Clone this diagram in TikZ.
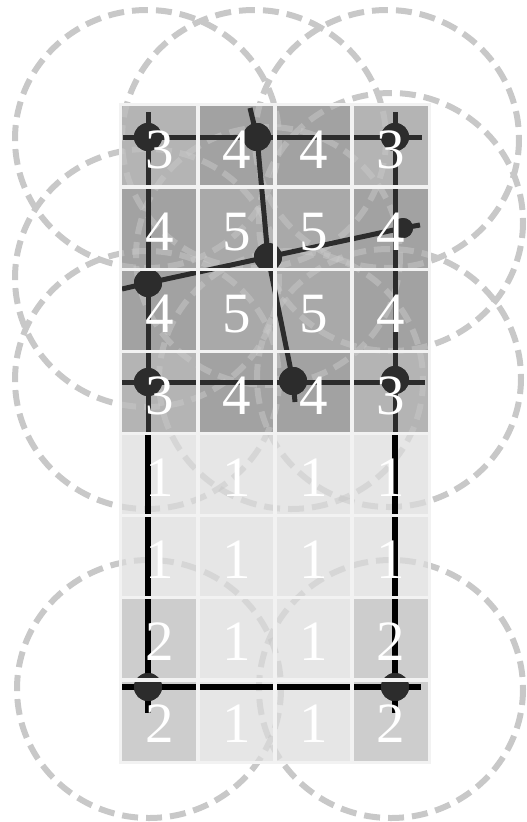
\documentclass[tikz,border=0pt]{standalone}
\usepackage{fontspec}
\setmainfont{Liberation Serif}
\definecolor{ringgray}{HTML}{C8C8C8}
\definecolor{v1}{HTML}{E6E6E6}
\definecolor{v2}{HTML}{CDCDCD}
\definecolor{v3}{HTML}{B4B4B4}
\definecolor{v4}{HTML}{A2A2A2}
\definecolor{v5}{HTML}{A9A9A9}
\definecolor{gapcol}{HTML}{F2F2F2}
\definecolor{wiredark}{HTML}{2C2C2C}
\begin{document}
\begin{tikzpicture}[x=1pt,y=-1pt,
  ring/.style={draw=ringgray, line width=6pt, dash pattern=on 16pt off 8pt},
  ringfaint/.style={ring, draw opacity=0.5},
  cell/.style={rectangle, draw=none, inner sep=0pt, minimum width=77pt, minimum height=82.125pt},
  gap/.style={draw=gapcol, line width=3pt},
  wire/.style={draw=wiredark, line width=5pt},
  wireblack/.style={draw=black, line width=5.5pt},
  dot/.style={circle, fill=wiredark, inner sep=0pt, minimum size=28pt},
  smalldot/.style={dot, minimum size=20pt},
  num/.style={text=white, font=\fontsize{57}{57}\selectfont, inner sep=0pt, anchor=base}]
\useasboundingbox (0,0) rectangle (527,822);
% rings (full, outside grid)
\def\rings{147/139,254/139,387/139,391/222,147/278,268/256,147/380,389/378,291/380,149/689,391/689}
\foreach \cx/\cy in \rings {\draw[ring] (\cx,\cy) ellipse [x radius=132, y radius=129];}
% cells
\foreach \row [count=\r] in {{3,4,4,3},{4,5,5,4},{4,5,5,4},{3,4,4,3},{1,1,1,1},{1,1,1,1},{2,1,1,2},{2,1,1,2}} {
  \foreach \v [count=\c] in \row {
    \node[cell, fill=v\v] (c\r\c) at ({121+77*(\c-0.5)}, {105+82.125*(\r-0.5)}) {};
  }
}
% rings seen through cells
\begin{scope}
\clip (c11.north west) rectangle (c84.south east);
\foreach \cx/\cy in \rings {\draw[ringfaint] (\cx,\cy) ellipse [x radius=132, y radius=129];}
\end{scope}
% dots
\node[dot] (d1) at (148,137) {};
\node[dot] (d2) at (257,137) {};
\node[dot] (d3) at (395,137) {};
\node[smalldot] (d4) at (403,228) {};
\node[dot] (d5) at (148,283) {};
\node[dot] (d6) at (268,257) {};
\node[dot] (d7) at (148,382) {};
\node[dot] (d8) at (395,380) {};
\node[dot] (d9) at (293,381) {};
\node[dot] (d10) at (148,687) {};
\node[dot] (d11) at (395,687) {};
% free ends
\coordinate (ta) at (123,137);
\coordinate (tb) at (422,137);
\coordinate (lv0) at (148,112);
\coordinate (lvm) at (148,433);
\coordinate (lv1) at (148,713);
\coordinate (rv0) at (395,112);
\coordinate (rvm) at (395,433);
\coordinate (rv1) at (395,713);
\coordinate (pa) at (250,108);
\coordinate (pb) at (295,402);
\coordinate (qa) at (122,289);
\coordinate (qb) at (420,225);
\coordinate (ha) at (122,382);
\coordinate (hb) at (425,382);
\coordinate (ba) at (122,687);
\coordinate (bb) at (421,687);
% connectors
\draw[wire] (ta) -- (tb);
\draw[wire] (lv0) -- (lvm);
\draw[wireblack] (lvm) -- (lv1);
\draw[wire] (rv0) -- (rvm);
\draw[wireblack] (rvm) -- (rv1);
\draw[wire] (pa) -- (d2.center) -- (d6.center) -- (d9.center) -- (pb);
\draw[wire] (qa) -- (d5.center) -- (d6.center) -- (d4.center) -- (qb);
\draw[wire] (ha) -- (hb);
\draw[wireblack] (ba) -- (bb);
% redraw dots over connectors
\foreach \d in {d1,d2,d3,d5,d6,d7,d8,d9,d10,d11} {\fill[wiredark] (\d.center) circle [radius=14];}
\fill[wiredark] (d4.center) circle [radius=10];
% cell gaps
\foreach \r in {1,...,8} {\foreach \c in {1,...,4} {\draw[gap] (c\r\c.north west) rectangle (c\r\c.south east);}}
% numbers
\foreach \row [count=\r] in {{3,4,4,3},{4,5,5,4},{4,5,5,4},{3,4,4,3},{1,1,1,1},{1,1,1,1},{2,1,1,2},{2,1,1,2}} {
  \foreach \v [count=\c] in \row {
    \node[num] (n\r\c) at ({121+77*(\c-0.5)}, {105+82.125*(\r-1)+63}) {\v};
  }
}
\end{tikzpicture}
\end{document}
